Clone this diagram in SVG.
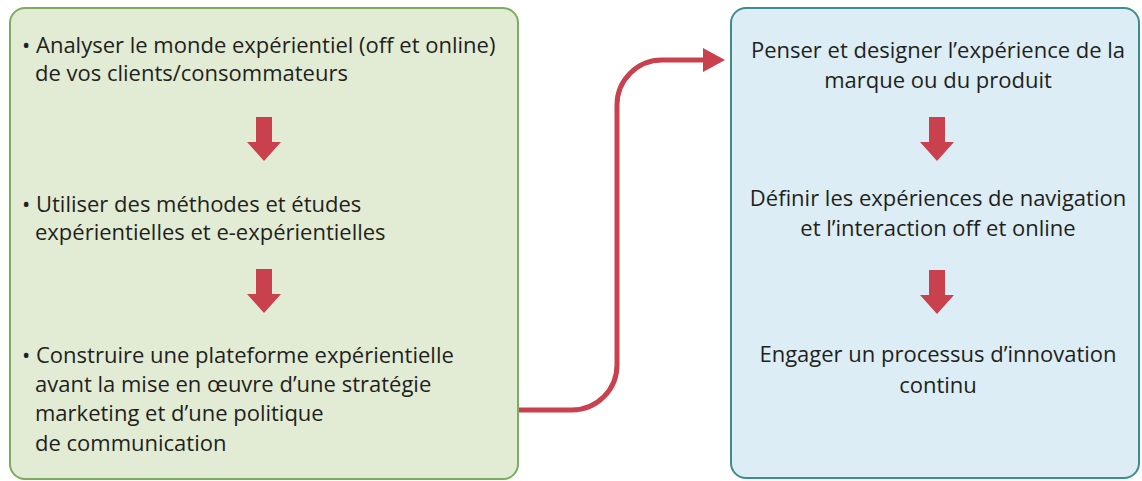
<svg xmlns="http://www.w3.org/2000/svg" width="1142" height="481" viewBox="0 0 1142 481">
<defs>
<style>
.txt{font-family:"Open Sans","Noto Sans",sans-serif;font-size:22px;fill:#231f20;}
.mid{text-anchor:middle;}
.arr{fill:#c9414c;}
.conn{fill:none;stroke:#c9414c;stroke-width:5;}
</style>
<polygon id="down" points="-8,0 8,0 8,25 17,25 0,44 -17,25 -8,25"/>
</defs>
<rect width="1142" height="481" fill="#ffffff"/>
<g id="left-box">
<rect x="10" y="8" width="508" height="471" rx="15" fill="#e2ebd4" stroke="#7dab5f" stroke-width="2"/>
<text class="txt" x="22" y="53">• Analyser le monde expérientiel (off et online)</text>
<text class="txt" x="35" y="81">de vos clients/consommateurs</text>
<use href="#down" class="arr" x="264" y="117"/>
<text class="txt" x="22" y="212">• Utiliser des méthodes et études</text>
<text class="txt" x="35" y="240">expérientielles et e-expérientielles</text>
<use href="#down" class="arr" x="264" y="269"/>
<text class="txt" x="22" y="363">• Construire une plateforme expérientielle</text>
<text class="txt" x="35" y="392">avant la mise en œuvre d’une stratégie</text>
<text class="txt" x="35" y="421">marketing et d’une politique</text>
<text class="txt" x="35" y="451">de communication</text>
</g>
<g id="right-box">
<rect x="731" y="8" width="408" height="470" rx="15" fill="#dcedf5" stroke="#3f8c8c" stroke-width="2"/>
<text class="txt mid" x="938" y="58">Penser et designer l’expérience de la</text>
<text class="txt mid" x="938" y="88">marque ou du produit</text>
<use href="#down" class="arr" x="937" y="117"/>
<text class="txt mid" x="938" y="206">Définir les expériences de navigation</text>
<text class="txt mid" x="938" y="236">et l’interaction off et online</text>
<use href="#down" class="arr" x="937" y="270"/>
<text class="txt mid" x="938" y="362">Engager un processus d’innovation</text>
<text class="txt mid" x="938" y="393">continu</text>
</g>
<g id="connectors">
<path class="conn" d="M519 410 H572 A45 45 0 0 0 617 365 V105 A45 45 0 0 1 662 60 H704"/>
<polygon class="arr" points="703,48 725,60 703,72"/>
</g>
</svg>
